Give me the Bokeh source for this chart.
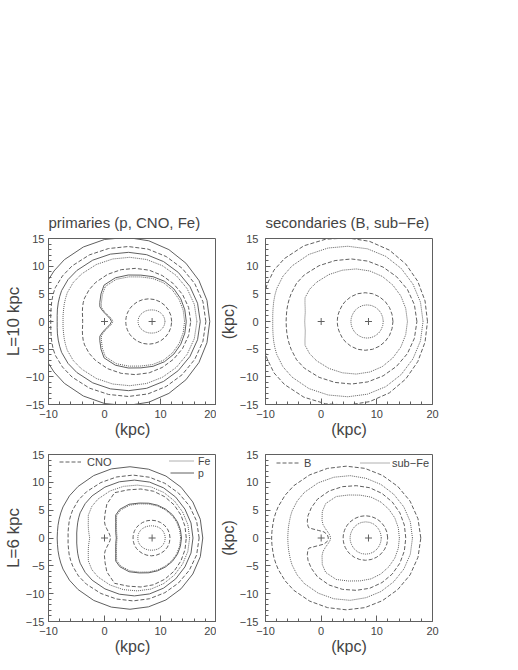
import numpy as np
from bokeh.plotting import figure
from bokeh.models import Range1d, FixedTicker, Legend, LegendItem
from bokeh.layouts import column, row
from bokeh.core.properties import value
from bokeh.embed import file_html
from bokeh.resources import INLINE

# ---------------- data ----------------
# polar angles (deg, upper half) at which contour radii were read
ANG = [0, 15, 30, 45, 60, 75, 90, 105, 120, 135, 145, 155, 160, 165, 170, 175, 180]

X_TICKS = [-10, 0, 10, 20]
X_TICK_LABELS = ["\u221210", "0", "10", "20"]
X_MINOR = [-8, -6, -4, -2, 2, 4, 6, 8, 12, 14, 16, 18]
Y_TICKS = [-15, -10, -5, 0, 5, 10, 15]
Y_TICK_LABELS = ["\u221215", "\u221210", "\u22125", "0", "5", "10", "15"]
Y_MINOR = [-14, -13, -12, -11, -9, -8, -7, -6, -4, -3, -2, -1,
           1, 2, 3, 4, 6, 7, 8, 9, 11, 12, 13, 14]

MARK_X = [0.0, 8.5]   # Galactic centre, Sun
MARK_Y = [0.0, 0.0]

# primaries, L = 10 kpc
PRIM10_SPECIES = ["p", "CNO", "p", "Fe", "CNO", "p", "Fe", "CNO", "Fe"]
PRIM10_CX = [4.0, 4.25, 4.3, 4.5, 5.5, 6.5, 6.5, 7.9, 8.4]
PRIM10_R = [
    [14.8, 14.8, 14.85, 14.9, 15.0, 15.1, 15.2, 15.35, 15.55, 15.8, 15.9, 16.0, 16.0, 16.0, 16.0, 16.0, 16.0],
    [13.85, 13.8, 13.7, 13.6, 13.55, 13.55, 13.55, 13.65, 13.9, 14.2, 14.35, 14.4, 14.3, 14.15, 14.0, 13.9, 13.85],
    [12.8, 12.75, 12.65, 12.55, 12.5, 12.5, 12.5, 12.6, 12.8, 13.05, 13.2, 13.2, 13.1, 13.0, 12.9, 12.8, 12.75],
    [12.0, 11.95, 11.85, 11.75, 11.65, 11.6, 11.6, 11.7, 11.9, 12.15, 12.3, 12.3, 12.2, 12.1, 12.0, 11.95, 11.9],
    [9.9, 9.85, 9.75, 9.65, 9.6, 9.6, 9.6, 9.7, 9.85, 10.0, 10.05, 10.0, 9.9, 9.75, 9.6, 9.45, 9.4],
    [8.1, 8.12, 8.22, 8.33, 8.4, 8.38, 8.38, 8.7, 9.12, 9.3, 8.7, 8.1, 7.8, 7.0, 6.1, 5.5, 5.25],
    [7.8, 7.82, 7.9, 8.0, 8.08, 8.05, 8.05, 8.35, 8.8, 8.98, 8.4, 7.8, 7.5, 6.72, 5.84, 5.24, 5.0],
    [4.1, 4.1, 4.1, 4.1, 4.1, 4.1, 4.1, 4.1, 4.1, 4.1, 4.1, 4.1, 4.1, 4.1, 4.1, 4.1, 4.1],
    [2.4, 2.38, 2.32, 2.25, 2.18, 2.12, 2.1, 2.12, 2.18, 2.25, 2.3, 2.35, 2.37, 2.38, 2.4, 2.4, 2.4],
]

# secondaries, L = 10 kpc
SEC10_SPECIES = ["B", "sub\u2212Fe", "B", "sub\u2212Fe", "B", "sub\u2212Fe"]
SEC10_CX = [4.8, 4.8, 5.45, 6.3, 7.9, 8.25]
SEC10_R = [
    [14.3, 14.35, 14.5, 14.7, 14.9, 15.0, 15.1, 15.4, 15.8, 16.1, 16.2, 16.0, 15.8, 15.6, 15.4, 15.3, 15.2],
    [13.5, 13.5, 13.5, 13.55, 13.6, 13.6, 13.6, 13.75, 14.0, 14.2, 14.25, 14.1, 13.95, 13.8, 13.65, 13.55, 13.5],
    [11.75, 11.7, 11.6, 11.45, 11.35, 11.3, 11.3, 11.4, 11.65, 11.95, 12.05, 11.95, 11.9, 11.85, 11.8, 11.75, 11.75],
    [9.2, 9.2, 9.25, 9.3, 9.4, 9.45, 9.5, 9.6, 9.8, 10.05, 10.2, 10.15, 9.8, 9.5, 9.3, 9.25, 9.25],
    [5.0, 5.0, 5.05, 5.1, 5.15, 5.2, 5.2, 5.2, 5.15, 5.1, 5.05, 5.0, 5.0, 5.0, 5.0, 5.0, 5.0],
    [2.9, 2.9, 2.92, 2.95, 2.97, 3.0, 3.0, 3.0, 2.97, 2.95, 2.92, 2.9, 2.9, 2.9, 2.9, 2.9, 2.9],
]

# primaries, L = 6 kpc
PRIM6_SPECIES = ["p", "CNO", "p", "Fe", "CNO", "p", "Fe", "CNO", "Fe"]
PRIM6_CX = [4.55, 5.1, 5.35, 5.85, 6.5, 7.9, 7.9, 8.4, 8.4]
PRIM6_R = [
    [13.0, 13.0, 12.95, 12.9, 12.85, 12.8, 12.8, 12.85, 12.95, 13.1, 13.2, 13.2, 13.15, 13.1, 13.05, 13.0, 13.0],
    [11.8, 11.75, 11.6, 11.45, 11.35, 11.3, 11.3, 11.35, 11.5, 11.75, 11.9, 11.9, 11.85, 11.8, 11.7, 11.65, 11.6],
    [10.45, 10.45, 10.4, 10.4, 10.4, 10.4, 10.4, 10.45, 10.55, 10.7, 10.75, 10.7, 10.6, 10.5, 10.4, 10.35, 10.3],
    [9.35, 9.35, 9.35, 9.4, 9.45, 9.5, 9.5, 9.6, 9.75, 9.9, 9.9, 9.65, 9.3, 9.06, 8.85, 8.65, 8.5],
    [8.1, 8.15, 8.25, 8.4, 8.55, 8.7, 8.8, 8.95, 9.4, 8.6, 7.8, 7.2, 6.8, 6.3, 5.85, 5.55, 5.43],
    [5.85, 5.85, 5.9, 5.95, 6.0, 6.1, 6.25, 6.5, 7.0, 7.3, 7.2, 6.51, 6.28, 6.11, 5.98, 5.87, 5.8],
    [5.7, 5.7, 5.75, 5.8, 5.85, 5.95, 6.1, 6.35, 6.8, 7.1, 7.0, 6.35, 6.12, 5.95, 5.82, 5.72, 5.65],
    [3.3, 3.3, 3.28, 3.25, 3.22, 3.2, 3.2, 3.2, 3.22, 3.25, 3.28, 3.3, 3.3, 3.3, 3.3, 3.3, 3.3],
    [2.45, 2.43, 2.4, 2.35, 2.28, 2.22, 2.2, 2.22, 2.28, 2.35, 2.4, 2.43, 2.44, 2.45, 2.45, 2.45, 2.45],
]

# secondaries, L = 6 kpc (third contour has a notch at the Galactic centre)
SEC6_SPECIES = ["B", "sub\u2212Fe", "B", "sub\u2212Fe", "B", "sub\u2212Fe"]
SEC6_CX = [4.5, 5.2, 6.3, 7.0, 7.95, 8.0]
NOTCH_ANG = [0, 15, 30, 45, 60, 75, 90, 105, 120, 135, 146, 155, 161, 166, 168, 168.7, 169.3, 173.4, 180]
SEC6_ANG = [ANG, ANG, NOTCH_ANG, ANG, ANG, ANG]
SEC6_R = [
    [13.4, 13.35, 13.25, 13.1, 13.0, 12.95, 12.9, 12.95, 13.1, 13.3, 13.4, 13.45, 13.45, 13.45, 13.4, 13.4, 13.4],
    [11.2, 11.2, 11.15, 11.1, 11.1, 11.1, 11.2, 11.3, 11.45, 11.6, 11.6, 11.5, 11.4, 11.3, 11.25, 11.2, 11.2],
    [8.9, 8.95, 9.05, 9.15, 9.25, 9.35, 9.4, 9.55, 9.75, 9.85, 9.73, 9.55, 9.3, 8.95, 8.69, 6.86, 5.9, 5.23, 5.0],
    [7.05, 7.1, 7.2, 7.3, 7.45, 7.6, 7.7, 8.0, 8.6, 8.75, 8.3, 7.55, 7.1, 6.45, 5.85, 5.45, 5.3],
    [4.0, 4.0, 4.0, 4.0, 4.0, 4.0, 4.0, 4.0, 4.0, 4.0, 4.0, 4.0, 4.0, 4.0, 4.0, 4.0, 4.0],
    [2.8, 2.8, 2.82, 2.85, 2.88, 2.9, 2.9, 2.9, 2.88, 2.85, 2.82, 2.8, 2.8, 2.8, 2.8, 2.8, 2.8],
]

# ---------------- styling ----------------
FONT = "Liberation Sans"
TXT = "#444444"
LINE = "#606060"
SPECIES_DASH = {"p": "solid", "CNO": "4 2", "Fe": "1 1",
                "B": "4 2", "sub\u2212Fe": "1 1"}


def ring_xy(cx, radii, ang):
    th = np.radians(np.asarray(ang, dtype=float))
    r = np.asarray(radii, dtype=float)
    x = cx + r * np.cos(th)
    y = r * np.sin(th)
    xs = np.concatenate([x, x[-2::-1]])
    ys = np.concatenate([y, -y[-2::-1]])
    return xs, ys


def make_panel(width, height, mbl, mbr, mbt, mbb, title, ylabel,
               ylabel_size, ystandoff):
    p = figure(width=width, height=height,
               x_range=Range1d(-10, 20), y_range=Range1d(-15, 15),
               output_backend="svg", toolbar_location=None, title=title,
               min_border_left=mbl, min_border_right=mbr,
               min_border_top=mbt, min_border_bottom=mbb)
    p.grid.visible = False
    p.background_fill_color = "white"
    p.border_fill_color = "white"
    p.outline_line_color = LINE
    p.outline_line_width = 1
    p.outline_line_alpha = 1
    if title is not None:
        p.title.text_font = FONT
        p.title.text_font_size = "15px"
        p.title.text_font_style = "normal"
        p.title.text_color = TXT
        p.title.align = "left"
        p.title.standoff = 15
    for ax, ticks, labels, minor, tin in (
            (p.xaxis[0], X_TICKS, X_TICK_LABELS, X_MINOR, 6),
            (p.yaxis[0], Y_TICKS, Y_TICK_LABELS, Y_MINOR, 5)):
        ax.ticker = FixedTicker(ticks=ticks, minor_ticks=minor)
        ax.major_label_overrides = dict(zip(ticks, labels))
        ax.major_tick_in = tin
        ax.major_tick_out = 0
        ax.minor_tick_in = 3
        ax.minor_tick_out = 0
        ax.axis_line_color = LINE
        ax.major_tick_line_color = LINE
        ax.minor_tick_line_color = LINE
        ax.major_label_text_font = FONT
        ax.major_label_text_font_size = "11px"
        ax.major_label_text_color = TXT
        ax.axis_label_text_font = FONT
        ax.axis_label_text_font_size = "16px"
        ax.axis_label_text_font_style = "normal"
        ax.axis_label_text_color = TXT
    p.xaxis.axis_label = "(kpc)"
    p.xaxis.major_label_standoff = 5
    p.xaxis.axis_label_standoff = 0
    p.yaxis.axis_label = ylabel
    p.yaxis.axis_label_text_font_size = ylabel_size
    p.yaxis.major_label_standoff = ystandoff
    p.yaxis.axis_label_standoff = 0
    return p


def draw_rings(p, species, cxs, radii, angs=None):
    rends = {}
    for i, (sp, cx, rr) in enumerate(zip(species, cxs, radii)):
        ang = ANG if angs is None else angs[i]
        xs, ys = ring_xy(cx, rr, ang)
        r = p.line(xs, ys, line_color=LINE, line_width=1,
                   line_dash=SPECIES_DASH[sp])
        rends.setdefault(sp, r)
    p.scatter(MARK_X, MARK_Y, marker="cross", size=7,
              line_color=LINE, line_width=1)
    return rends


def add_legend(p, label, renderer, vx, vy, glyph_w, standoff, size="11px"):
    leg = Legend(items=[LegendItem(label=value(label), renderers=[renderer])],
                 location=(vx, vy), orientation="vertical",
                 glyph_width=glyph_w, glyph_height=13, label_height=13,
                 label_standoff=standoff, padding=0, margin=0, spacing=0,
                 border_line_alpha=0, background_fill_alpha=0,
                 label_text_font=FONT, label_text_font_size=size,
                 label_text_color=TXT)
    p.add_layout(leg)


p1 = make_panel(216, 440, 48, 0, 238, 36, "primaries (p, CNO, Fe)", "L=10 kpc", "17px", 4)
p2 = make_panel(236, 440, 48, 20, 238, 36, "secondaries (B, sub\u2212Fe)", "(kpc)", "16px", 7)
p3 = make_panel(216, 221, 48, 0, 14, 40, None, "L=6 kpc", "17px", 4)
p4 = make_panel(236, 221, 48, 20, 14, 40, None, "(kpc)", "16px", 7)

draw_rings(p1, PRIM10_SPECIES, PRIM10_CX, PRIM10_R)
draw_rings(p2, SEC10_SPECIES, SEC10_CX, SEC10_R)
r3 = draw_rings(p3, PRIM6_SPECIES, PRIM6_CX, PRIM6_R)
r4 = draw_rings(p4, SEC6_SPECIES, SEC6_CX, SEC6_R, SEC6_ANG)

add_legend(p3, "CNO", r3["CNO"], 11, 153, 22, 6)
add_legend(p3, "Fe", r3["Fe"], 121, 154, 25, 4, "10.5px")
add_legend(p3, "p", r3["p"], 122, 142, 24, 4, "10.5px")
add_legend(p4, "B", r4["B"], 11, 152, 23, 5)
add_legend(p4, "sub\u2212Fe", r4["sub\u2212Fe"], 95, 152, 30, 2)

layout = column(row(p1, p2), row(p3, p4))

open("out.html", "w").write(file_html(layout, INLINE))
